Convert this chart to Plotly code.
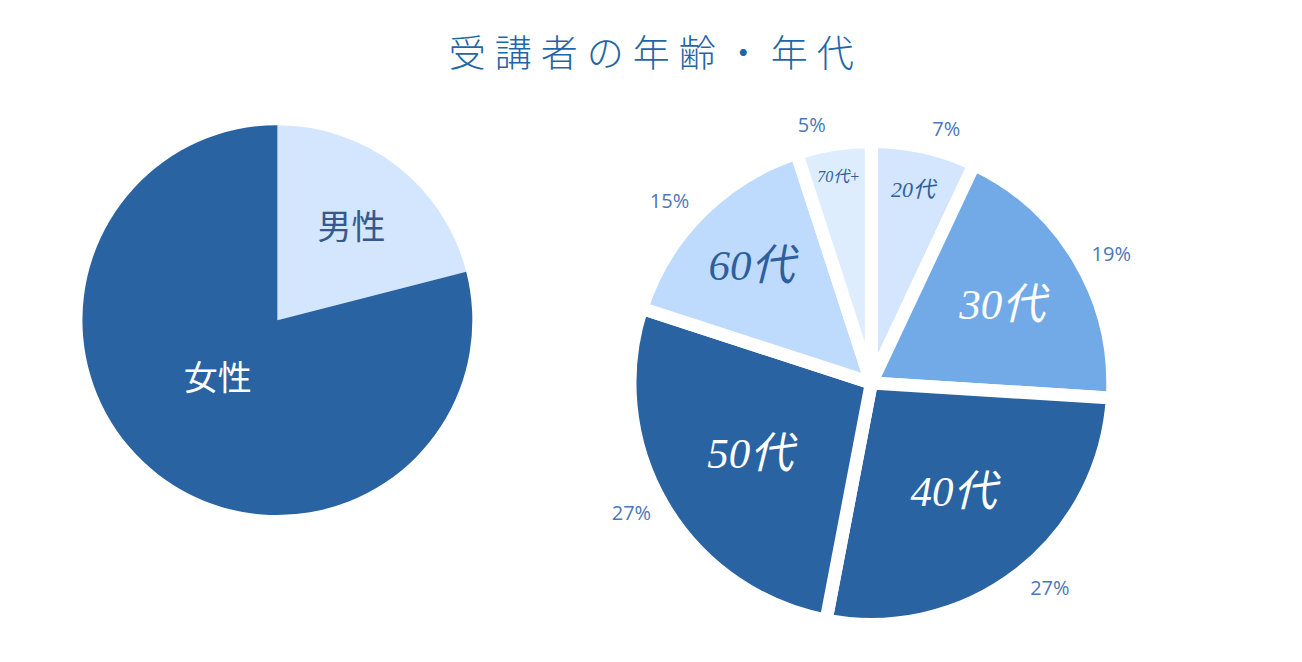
import plotly.graph_objects as go

title_text = "受講者の年齢・年代"

gender_labels = ["男性", "女性"]
gender_values = [21, 79]
gender_colors = ["#D3E6FD", "#2A63A1"]
gender_text_colors = ["#36598C", "#FFFFFF"]

age_labels = ["20代", "30代", "40代", "50代", "60代", "70代+"]
age_values = [7, 19, 27, 27, 15, 5]
age_colors = ["#D3E6FD", "#72AAE8", "#2A63A2", "#2A63A2", "#BEDBFD", "#DDEDFE"]
age_text_colors = ["#2F5E9C", "#FFFFFF", "#FFFFFF", "#FFFFFF", "#2F5E9C", "#2F5E9C"]
age_text_sizes = [22, 43, 43, 43, 43, 16]

serif = "Liberation Serif, DejaVu Serif, Noto Sans CJK JP, serif"

fig = go.Figure()

fig.add_trace(go.Pie(
    labels=gender_labels,
    values=gender_values,
    sort=False,
    direction="clockwise",
    rotation=0,
    marker=dict(colors=gender_colors, line=dict(width=0)),
    texttemplate=["%{label}", "%{label}<br> "],
    textposition="inside",
    insidetextorientation="horizontal",
    insidetextfont=dict(family="Noto Sans CJK JP", size=34, color=gender_text_colors),
    domain=dict(x=[0.0569, 0.3569], y=[0.234, 0.823]),
    showlegend=False,
    hoverinfo="label+percent",
))

# right pie geometry (paper fractions)
cx, cy = 0.6631, 0.4336
hw, hh = 0.1854, 0.3676
lw, lh = 0.1905, 0.3794

fig.add_trace(go.Pie(
    labels=age_labels,
    values=age_values,
    sort=False,
    direction="clockwise",
    rotation=0,
    marker=dict(colors=age_colors, line=dict(width=13, color="#FFFFFF")),
    textinfo="label",
    textposition="inside",
    insidetextorientation="horizontal",
    insidetextfont=dict(family=serif, size=age_text_sizes, color=age_text_colors, style="italic"),
    domain=dict(x=[cx - hw, cx + hw], y=[cy - hh, cy + hh]),
    showlegend=False,
    hoverinfo="label+percent",
))

fig.add_trace(go.Pie(
    labels=age_labels,
    values=age_values,
    sort=False,
    direction="clockwise",
    rotation=0,
    marker=dict(colors=["rgba(0,0,0,0)"] * len(age_labels), line=dict(width=0)),
    texttemplate="%{value}%",
    textposition="outside",
    outsidetextfont=dict(family="Open Sans, Noto Sans, sans-serif", size=20, color="#4A78B8"),
    domain=dict(x=[cx - lw, cx + lw], y=[cy - lh, cy + lh]),
    showlegend=False,
    hoverinfo="skip",
))

fig.update_layout(
    width=1302,
    height=662,
    margin=dict(l=0, r=0, t=0, b=0),
    paper_bgcolor="#FFFFFF",
    plot_bgcolor="#FFFFFF",
    title=dict(
        text='<span style="letter-spacing:9px">' + title_text + '</span>',
        x=0.4975,
        xanchor="center",
        y=0.930,
        yanchor="middle",
        font=dict(family="Noto Sans CJK JP", size=37, color="#1F66A6", weight=300),
    ),
)

fig.write_html("out.html")
